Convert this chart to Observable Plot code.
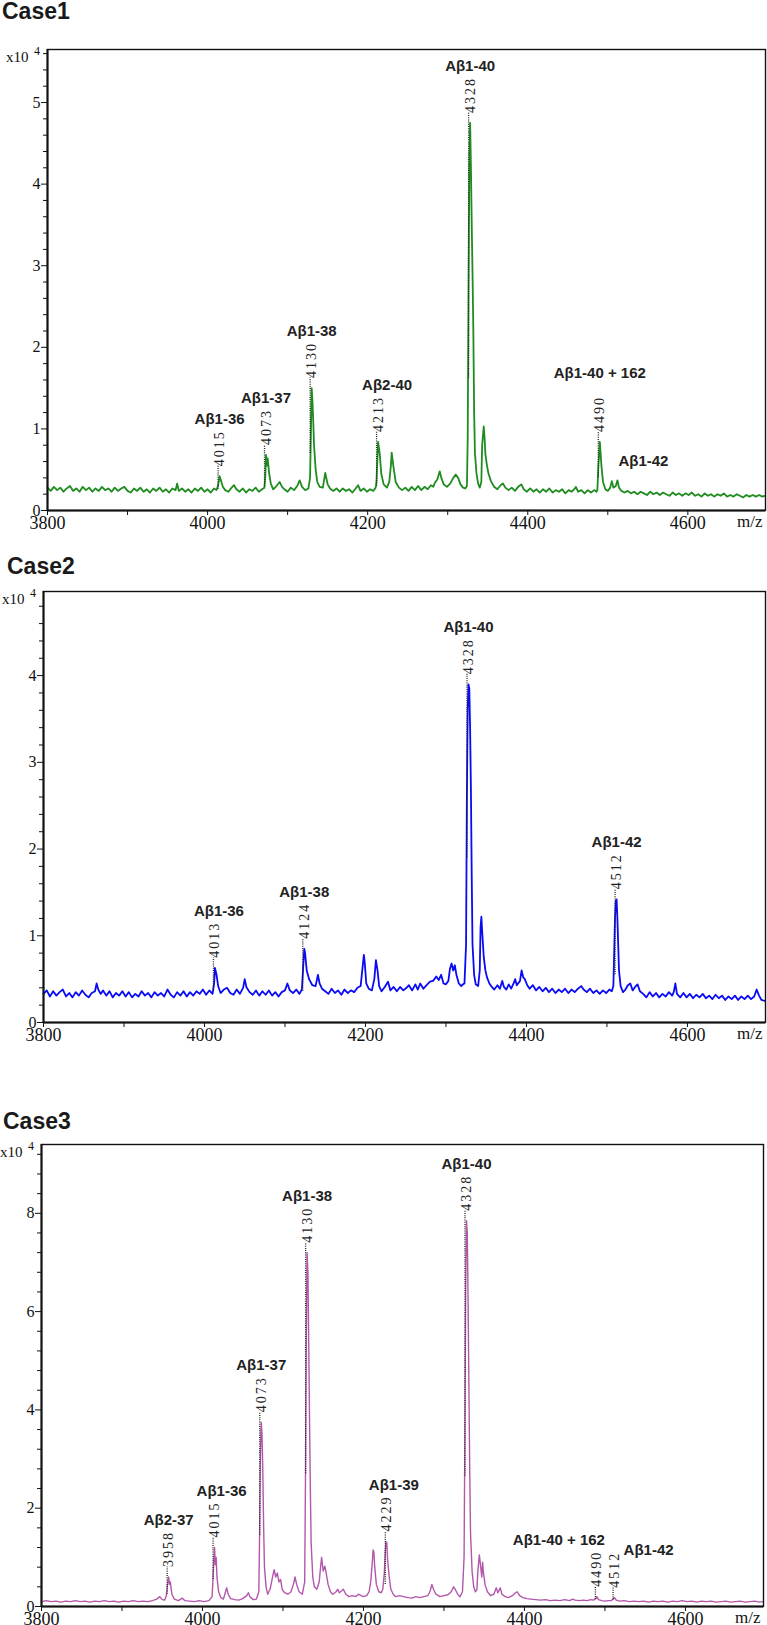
<!DOCTYPE html>
<html><head><meta charset="utf-8">
<script src="https://cdn.jsdelivr.net/npm/d3@7"></script>
<script src="https://cdn.jsdelivr.net/npm/@observablehq/plot@0.6"></script>
<style>
body{margin:0;background:#fff;width:767px;height:1625px;position:relative;overflow:hidden}
.panel{position:absolute;left:0;width:767px}
.title{position:absolute;font-family:"Liberation Sans",Arial,sans-serif;font-weight:bold;font-size:23px;line-height:23px;color:#1a1a1a}
.exp{position:absolute;font-family:"Liberation Serif","Times New Roman",serif;color:#111;line-height:1}
</style></head><body>
<script>
// ---------------- data (intensity in units of 10^4) ----------------
const xMajorTicks = [3800, 4000, 4200, 4400, 4600];
const xMinorTicks = [3900, 4100, 4300, 4500];
const titles = ["Case1", "Case2", "Case3"];

// spectrum: flat list m/z, intensity, m/z, intensity, ...
const case1Spectrum = [3800,.28,3804,.24,3808,.29,3812,.25,3816,.28,3820,.23,3824,.27,3828,.30,3832,.24,3836,.27,3840,.23,3844,.29,3848,.25,3852,.28,3856,.23,3860,.27,3864,.24,3868,.29,3872,.25,3876,.27,3880,.23,3884,.28,3888,.24,3892,.27,3896,.29,3900,.24,3904,.22,3908,.27,3912,.24,3916,.28,3920,.23,3924,.26,3928,.22,3932,.27,3936,.24,3940,.28,3944,.23,3948,.26,3952,.22,3956,.27,3960,.25,3962,.33,3964,.24,3968,.27,3972,.23,3976,.26,3980,.22,3984,.27,3988,.24,3992,.28,3996,.23,4000,.26,4004,.22,4008,.27,4011,.25,4013,.30,4015,.42,4017,.36,4019,.29,4022,.25,4026,.23,4030,.28,4033,.31,4036,.26,4040,.23,4044,.27,4048,.22,4052,.26,4056,.24,4060,.28,4064,.23,4068,.26,4071,.28,4072,.4,4073,.68,4074,.55,4075,.64,4077,.45,4079,.33,4082,.26,4086,.30,4090,.35,4093,.29,4096,.26,4100,.23,4104,.28,4108,.25,4112,.30,4115,.37,4118,.29,4122,.25,4126,.27,4128,.40,4129,.9,4130,1.5,4131,1.35,4132,1.1,4133,.8,4135,.5,4137,.35,4140,.29,4144,.28,4147,.46,4150,.32,4153,.27,4157,.24,4161,.27,4165,.23,4169,.27,4173,.24,4177,.26,4181,.22,4185,.27,4188,.31,4191,.24,4195,.27,4199,.23,4203,.26,4207,.24,4210,.28,4211,.35,4213,.84,4215,.7,4217,.45,4220,.32,4224,.28,4227,.35,4229,.55,4230,.71,4232,.55,4235,.35,4239,.28,4243,.25,4247,.28,4251,.24,4255,.29,4259,.25,4263,.30,4267,.25,4271,.29,4275,.26,4279,.31,4282,.29,4284,.34,4287,.38,4290,.48,4292,.40,4295,.32,4299,.29,4303,.33,4307,.40,4310,.44,4313,.40,4316,.32,4319,.28,4322,.27,4324,.30,4325,.9,4326,2.8,4327,4.2,4328,4.75,4329,4.2,4330,3.5,4331,2.9,4332,2.2,4333,1.2,4334,.7,4336,.45,4338,.33,4340,.28,4342,.35,4343,.8,4345,1.03,4346,.9,4347,.7,4349,.55,4351,.45,4354,.36,4358,.29,4362,.26,4366,.31,4369,.33,4372,.28,4376,.25,4380,.28,4384,.24,4388,.29,4392,.32,4395,.26,4399,.23,4403,.27,4407,.23,4411,.26,4415,.22,4419,.26,4423,.23,4427,.27,4431,.22,4435,.25,4439,.23,4443,.26,4447,.21,4451,.25,4455,.23,4459,.27,4460,.29,4463,.23,4467,.25,4471,.21,4475,.25,4479,.22,4483,.25,4486,.23,4487,.26,4488,.5,4490,.84,4491,.7,4492,.55,4494,.35,4497,.26,4500,.24,4503,.28,4505,.36,4507,.28,4510,.30,4512,.37,4514,.28,4517,.24,4521,.22,4525,.24,4529,.21,4533,.23,4537,.20,4541,.23,4545,.21,4549,.19,4553,.23,4557,.20,4561,.22,4565,.19,4569,.22,4573,.20,4577,.18,4581,.22,4585,.19,4589,.21,4593,.18,4597,.21,4601,.19,4605,.22,4609,.18,4613,.20,4617,.17,4621,.21,4625,.18,4629,.20,4633,.17,4637,.20,4641,.18,4645,.21,4649,.17,4653,.19,4657,.17,4661,.20,4665,.18,4669,.16,4673,.19,4677,.17,4681,.19,4685,.17,4689,.19,4693,.17,4696,.18];

const case2Spectrum = [3800,.33,3804,.37,3808,.30,3812,.36,3816,.31,3820,.35,3824,.38,3828,.30,3832,.34,3836,.29,3840,.35,3844,.31,3848,.37,3852,.32,3856,.29,3860,.34,3864,.36,3866,.45,3868,.38,3871,.33,3874,.37,3878,.31,3882,.36,3886,.29,3890,.34,3894,.31,3898,.36,3902,.30,3906,.35,3910,.29,3914,.33,3918,.30,3922,.36,3926,.31,3930,.34,3934,.29,3938,.35,3942,.31,3946,.34,3950,.30,3954,.38,3958,.32,3962,.29,3966,.35,3970,.31,3974,.36,3978,.30,3982,.35,3986,.31,3990,.36,3994,.33,3998,.38,4002,.32,4006,.37,4010,.33,4012,.45,4013,.63,4015,.55,4017,.42,4020,.34,4024,.38,4028,.40,4032,.34,4036,.32,4040,.38,4044,.33,4048,.40,4050,.50,4052,.41,4056,.35,4060,.32,4064,.37,4068,.31,4072,.36,4076,.32,4080,.37,4084,.31,4088,.35,4092,.30,4096,.35,4100,.37,4103,.45,4106,.37,4110,.34,4114,.38,4118,.33,4121,.38,4123,.7,4124,.85,4125,.8,4127,.6,4130,.5,4134,.43,4138,.42,4141,.55,4143,.45,4146,.39,4150,.36,4154,.33,4158,.39,4162,.34,4166,.37,4170,.32,4174,.38,4178,.34,4182,.37,4186,.35,4190,.40,4194,.42,4196,.6,4198,.78,4199,.7,4201,.45,4204,.39,4208,.37,4211,.5,4213,.72,4215,.6,4217,.42,4220,.36,4224,.41,4228,.47,4231,.37,4235,.41,4239,.36,4243,.41,4247,.37,4251,.40,4254,.43,4258,.37,4262,.44,4265,.38,4268,.45,4272,.39,4276,.43,4280,.47,4284,.48,4288,.53,4291,.49,4294,.55,4297,.45,4300,.44,4303,.48,4305,.62,4307,.68,4309,.6,4311,.66,4313,.55,4316,.45,4319,.42,4321,.44,4323,.45,4325,.9,4326,2.6,4327,3.6,4328,3.9,4329,3.85,4330,3.4,4331,2.7,4332,1.7,4333,.9,4335,.55,4337,.44,4340,.42,4342,.6,4343,1.1,4344,1.22,4345,1.05,4347,.75,4349,.6,4351,.52,4354,.45,4357,.41,4360,.38,4364,.43,4367,.39,4370,.48,4372,.41,4375,.38,4378,.44,4381,.39,4384,.45,4386,.5,4388,.43,4392,.48,4394,.6,4396,.52,4398,.5,4401,.43,4404,.39,4408,.43,4412,.37,4416,.41,4420,.36,4424,.40,4428,.35,4432,.39,4436,.34,4440,.38,4444,.35,4448,.39,4452,.34,4456,.38,4460,.35,4464,.39,4468,.42,4471,.38,4475,.35,4479,.39,4483,.34,4487,.37,4491,.33,4495,.37,4499,.34,4503,.38,4506,.36,4508,.42,4509,.8,4510,1.2,4511,1.4,4512,1.42,4513,1.2,4514,.9,4515,.6,4517,.42,4520,.35,4523,.38,4526,.43,4529,.45,4532,.37,4535,.41,4538,.44,4541,.36,4545,.33,4549,.29,4553,.35,4557,.30,4561,.34,4565,.29,4569,.33,4573,.30,4577,.35,4581,.31,4583,.35,4585,.45,4587,.33,4591,.29,4595,.34,4599,.29,4603,.33,4607,.28,4611,.32,4615,.29,4619,.33,4623,.28,4627,.31,4631,.27,4635,.32,4639,.28,4643,.31,4647,.26,4651,.30,4655,.27,4659,.31,4663,.26,4667,.30,4671,.27,4675,.31,4679,.27,4683,.30,4686,.38,4689,.31,4692,.26,4696,.25];

const case3Spectrum = [3800,.1,3806,.12,3812,.1,3818,.11,3824,.09,3830,.11,3836,.1,3842,.12,3848,.1,3854,.11,3860,.09,3866,.11,3872,.1,3878,.12,3884,.1,3890,.11,3896,.09,3902,.11,3908,.1,3914,.12,3920,.1,3926,.11,3932,.1,3938,.12,3943,.15,3947,.2,3950,.14,3953,.13,3955,.22,3957,.5,3958,.6,3959,.45,3960,.5,3962,.25,3965,.15,3970,.12,3975,.17,3978,.12,3984,.11,3990,.1,3996,.12,4002,.1,4008,.12,4012,.2,4014,.9,4015,1.2,4016,.85,4017,1.0,4018,.6,4020,.3,4023,.18,4026,.15,4030,.38,4032,.25,4035,.16,4040,.14,4045,.13,4050,.16,4055,.22,4057,.28,4059,.2,4063,.14,4067,.15,4070,.3,4071,1.5,4072,3.1,4073,3.75,4074,3.5,4075,2.7,4076,1.6,4077,.8,4079,.4,4081,.25,4084,.35,4087,.6,4089,.75,4091,.6,4093,.68,4095,.5,4097,.55,4099,.35,4102,.28,4106,.25,4110,.3,4113,.45,4115,.6,4117,.45,4120,.3,4124,.25,4127,.5,4128,2.7,4129,5.5,4130,7.2,4131,6.8,4132,5.4,4133,3.8,4134,2.4,4135,1.3,4137,.6,4139,.4,4142,.35,4145,.5,4147,.85,4148,1.0,4150,.72,4152,.82,4154,.65,4156,.45,4159,.3,4162,.25,4166,.3,4168,.35,4170,.28,4173,.32,4175,.35,4178,.25,4182,.2,4186,.22,4190,.2,4194,.25,4197,.22,4200,.2,4204,.22,4207,.3,4209,.5,4211,.9,4212,1.15,4213,1.1,4214,.8,4216,.45,4219,.3,4222,.28,4224,.35,4226,.7,4227,1.1,4228,1.32,4229,1.3,4230,.95,4232,.6,4234,.35,4237,.25,4240,.2,4245,.22,4250,.2,4255,.18,4260,.17,4265,.2,4270,.18,4275,.2,4280,.22,4283,.32,4285,.45,4287,.35,4290,.25,4295,.2,4300,.22,4305,.24,4309,.3,4312,.4,4314,.35,4317,.25,4320,.2,4323,.3,4325,1.0,4326,3.5,4327,6.5,4328,7.85,4329,7.6,4330,6.2,4331,4.5,4332,2.8,4333,1.5,4335,.7,4337,.4,4339,.3,4341,.35,4342,.7,4344,1.05,4345,.9,4347,.6,4348,.9,4349,.7,4351,.45,4354,.3,4358,.22,4362,.25,4365,.38,4367,.28,4370,.38,4372,.25,4376,.2,4380,.18,4385,.22,4389,.28,4391,.3,4394,.22,4398,.18,4403,.16,4408,.15,4414,.14,4420,.13,4426,.14,4432,.12,4438,.13,4444,.12,4450,.14,4456,.12,4460,.15,4463,.13,4468,.12,4473,.13,4478,.12,4482,.14,4486,.13,4489,.17,4490,.2,4492,.14,4496,.12,4500,.11,4504,.12,4508,.12,4510,.15,4512,.18,4514,.13,4518,.11,4524,.12,4530,.1,4536,.11,4542,.1,4548,.11,4554,.09,4560,.11,4566,.1,4572,.11,4578,.09,4584,.11,4590,.1,4596,.12,4602,.1,4608,.11,4614,.09,4620,.11,4626,.1,4632,.11,4638,.09,4644,.1,4650,.11,4656,.09,4662,.1,4668,.11,4674,.09,4680,.1,4686,.11,4692,.09,4696,.1];

// annotated peaks: m/z, name, peak intensity, lower end of the dotted marker
const case1Peaks = [
  {mz: 4015, name: "Aβ1-36", peak: 0.42, low: 0.26},
  {mz: 4073, name: "Aβ1-37", peak: 0.68, low: 0.29},
  {mz: 4130, name: "Aβ1-38", peak: 1.5, low: 0.7},
  {mz: 4213, name: "Aβ2-40", peak: 0.84, low: 0.3},
  {mz: 4328, name: "Aβ1-40", peak: 4.75, low: 1.62},
  {mz: 4490, name: "Aβ1-40 + 162", peak: 0.84, low: 0.4},
  {mz: 4512, name: "Aβ1-42", peak: 0.37, low: null}
];
const case2Peaks = [
  {mz: 4013, name: "Aβ1-36", peak: 0.63, low: 0.36},
  {mz: 4124, name: "Aβ1-38", peak: 0.85, low: 0.36},
  {mz: 4328, name: "Aβ1-40", peak: 3.9, low: 1.9},
  {mz: 4512, name: "Aβ1-42", peak: 1.42, low: 0.55}
];
const case3Peaks = [
  {mz: 3958, name: "Aβ2-37", peak: 0.6, low: 0.25},
  {mz: 4015, name: "Aβ1-36", peak: 1.2, low: 0.55},
  {mz: 4073, name: "Aβ1-37", peak: 3.75, low: 1.45},
  {mz: 4130, name: "Aβ1-38", peak: 7.2, low: 2.7},
  {mz: 4229, name: "Aβ1-39", peak: 1.32, low: 0.45},
  {mz: 4328, name: "Aβ1-40", peak: 7.85, low: 2.65},
  {mz: 4490, name: "Aβ1-40 + 162", peak: 0.2, low: 0.14},
  {mz: 4512, name: "Aβ1-42", peak: 0.18, low: 0.13}
];
const case1YTicks = [0, 1, 2, 3, 4, 5];
const case2YTicks = [0, 1, 2, 3, 4];
const case3YTicks = [0, 2, 4, 6, 8];

// ---------------- layout ----------------
const panels = [
  {title: titles[0], spectrum: case1Spectrum, peaks: case1Peaks, yTicks: case1YTicks, yMax: 5.65, minorStep: 0.2,
   color: "#1e8c1e", lw: 1.8, top: 30, height: 506, mt: 19, mb: 26, ml: 47, mr: 2, titleTop: 0, titleLeft: 2,
   nudge: {"Aβ2-40": [9, 0], "Aβ1-40 + 162": [0, -12], "Aβ1-42": [26, 38]}, noNumber: ["Aβ1-42"]},
  {title: titles[1], spectrum: case2Spectrum, peaks: case2Peaks, yTicks: case2YTicks, yMax: 4.97, minorStep: 0.2,
   color: "#0a0af5", lw: 1.8, top: 570, height: 478, mt: 21, mb: 26, ml: 43, mr: 2, titleTop: 555, titleLeft: 7,
   nudge: {"Aβ1-36": [4, 0]}, noNumber: []},
  {title: titles[2], spectrum: case3Spectrum, peaks: case3Peaks, yTicks: case3YTicks, yMax: 9.4, minorStep: 0.4,
   color: "#b257aa", lw: 1.4, top: 1124, height: 501, mt: 20, mb: 19, ml: 41, mr: 4, titleTop: 1110, titleLeft: 3,
   nudge: {"Aβ1-36": [7, 0], "Aβ1-39": [7, 0], "Aβ1-40 + 162": [-38, 0], "Aβ1-42": [34, 9]}, noNumber: []}
];

const serif = "'Liberation Serif','Times New Roman',serif";
const sans = "'Liberation Sans',Arial,sans-serif";

for (const P of panels) {
  const pts = [];
  for (let i = 0; i < P.spectrum.length; i += 2) pts.push({mz: P.spectrum[i], v: P.spectrum[i + 1]});
  const ppu = (P.height - P.mt - P.mb) / P.yMax;   // px per intensity unit
  const gap = 10;                                     // px between peak top and number
  const rows = P.peaks.map(d => ({...d, top: d.peak + gap / ppu}));
  const numbered = rows.filter(d => !P.noNumber.includes(d.name));
  const minor = d3.range(P.minorStep, P.yMax, P.minorStep)
    .filter(v => !P.yTicks.some(t => Math.abs(t - v) < 1e-6));

  const labelMarks = rows.map(d => {
    const [dx, dy] = P.nudge[d.name] || [0, 0];
    return Plot.text([d], {x: "mz", y: "peak", text: "name", dx, dy: -gap - 42 + dy,
      textAnchor: "middle", lineAnchor: "bottom", fontFamily: sans, fontWeight: "bold", fontSize: 15, fill: "#222"});
  });

  const chart = Plot.plot({
    width: 767, height: P.height,
    marginTop: P.mt, marginBottom: P.mb, marginLeft: P.ml, marginRight: P.mr,
    x: {domain: [3800, 4697]},
    y: {domain: [0, P.yMax]},
    style: {fontFamily: serif, fontSize: "16px", color: "#111", background: "#fff"},
    marks: [
      Plot.line(pts, {x: "mz", y: "v", stroke: P.color, strokeWidth: P.lw, strokeLinejoin: "round"}),
      Plot.ruleX(rows.filter(d => d.low != null), {x: "mz", y1: "low", y2: "top", dx: -1.5,
        stroke: "#222", strokeWidth: 1.3, strokeDasharray: "1 1.2"}),
      Plot.text(numbered, {x: "mz", y: "peak", text: d => String(d.mz), rotate: -90, dy: -gap,
        textAnchor: "start", lineAnchor: "middle", fontFamily: serif, fontSize: 14, fill: "#222",
        ariaDescription: "massnum"}),
      ...labelMarks,
      Plot.axisX({ticks: xMajorTicks, tickFormat: d => String(d), tickSize: 5, tickPadding: 1, fontSize: 18, label: null}),
      Plot.axisX({ticks: xMinorTicks, tickFormat: () => "", tickSize: 5, label: null}),
      Plot.axisY({ticks: P.yTicks, tickFormat: d => String(d), tickSize: 6, tickPadding: 1, fontSize: 16, label: null}),
      Plot.axisY({ticks: minor, tickFormat: () => "", tickSize: 4, label: null}),
      Plot.text(["m/z"], {frameAnchor: "bottom-right", textAnchor: "end", lineAnchor: "top", dy: 4, dx: -3,
        fontFamily: serif, fontSize: 17}),
      Plot.frame({stroke: "#111", strokeWidth: 1.4}),
      Plot.ruleX([3800], {stroke: "#111", strokeWidth: 2}),
      Plot.ruleY([0], {stroke: "#111", strokeWidth: 2})
    ]
  });
  d3.select(chart).selectAll("g[aria-description=massnum] text").style("letter-spacing", "2px");

  const wrap = document.createElement("div");
  wrap.className = "panel";
  wrap.style.top = P.top + "px";
  wrap.appendChild(chart);
  document.body.appendChild(wrap);

  const t = document.createElement("div");
  t.className = "title"; t.textContent = P.title;
  t.style.top = P.titleTop + "px"; t.style.left = P.titleLeft + "px";
  document.body.appendChild(t);

  const frameTop = P.top + P.mt;
  const e1 = document.createElement("div");
  e1.className = "exp"; e1.textContent = "x10";
  e1.style.fontSize = "15px"; e1.style.left = (P.ml - 41) + "px"; e1.style.top = (frameTop + 1) + "px";
  document.body.appendChild(e1);
  const e2 = document.createElement("div");
  e2.className = "exp"; e2.textContent = "4";
  e2.style.fontSize = "12px"; e2.style.left = (P.ml - 13) + "px"; e2.style.top = (frameTop - 4) + "px";
  document.body.appendChild(e2);
}
</script>
</body></html>
